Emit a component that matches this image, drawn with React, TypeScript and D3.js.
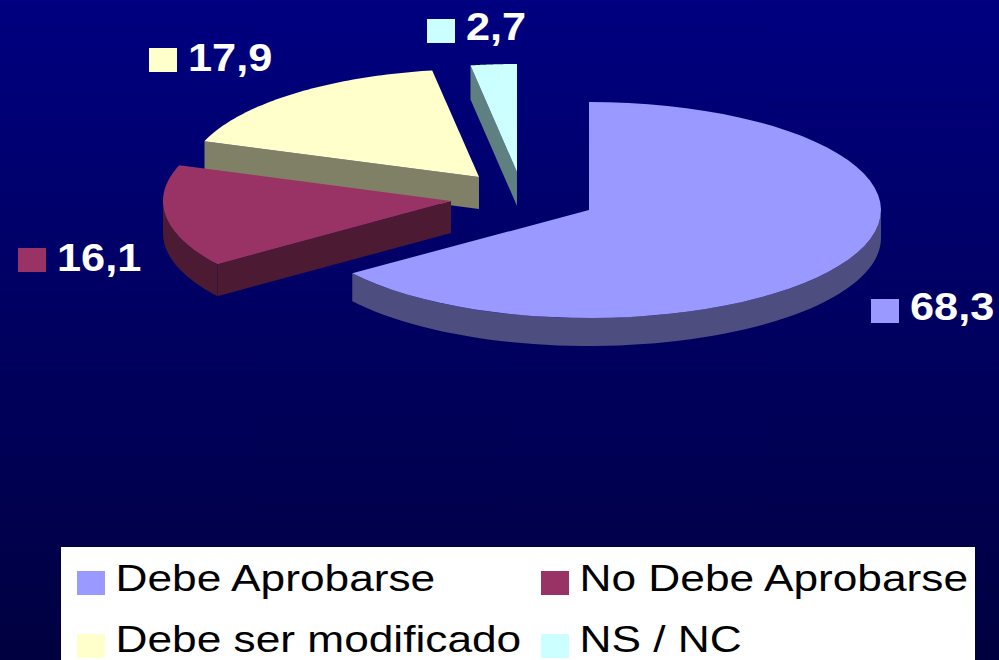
import React from "react";
import * as d3 from "d3";

const categories = ["Debe Aprobarse", "No Debe Aprobarse", "Debe ser modificado", "NS / NC"];
const values = [68.3, 16.1, 17.9, 2.7];
const valueLabels = ["68,3", "16,1", "17,9", "2,7"];
const topColors = ["#9999ff", "#993366", "#ffffcc", "#ccffff"];
const wallColors = ["#4d4d80", "#4d1a33", "#808066", "#5f8080"];

// layout
const W = 999, H = 660;
const centers: [number, number][] = [[589, 210], [451, 201], [479, 177], [517, 172]];
const radiiX = [292, 288, 291, 289];
const radiusY = 108;
const depths = [28, 32, 32, 34];
const drawOrder = [3, 2, 1, 0];
const labelBoxes: [number, number, number][] = [[871, 299, 320], [18, 248, 271], [149, 48, 71], [427, 19, 40]];
const legendPos: [number, number, number][] = [[77, 571, 591], [541, 571, 591], [77, 634, 652], [541, 634, 652]];
const labelStretch = 1.14;
const legendStretch = 1.18;
const font = "'Liberation Sans', Arial, sans-serif";

const arcs = d3.pie<number>().sort(null).value((d) => d)(values);

function pt(i: number, a: number, dy = 0): [number, number] {
  const [cx, cy] = centers[i];
  return [cx + radiiX[i] * Math.sin(a), cy - radiusY * Math.cos(a) + dy];
}
const line = d3.line();
function rim(i: number, a0: number, a1: number, dy = 0): [number, number][] {
  const angles = d3.range(0, 61).map((k) => a0 + ((a1 - a0) * k) / 60);
  return angles.map((a) => pt(i, a, dy));
}
function topPath(i: number) {
  const { startAngle, endAngle } = arcs[i];
  return line([centers[i], ...rim(i, startAngle, endAngle)]) + "Z";
}
function wallPaths(i: number): string[] {
  const { startAngle, endAngle } = arcs[i];
  const out: string[] = [];
  // outer rim, only the part that faces the viewer
  const a0 = Math.max(startAngle, Math.PI / 2);
  const a1 = Math.min(endAngle, (3 * Math.PI) / 2);
  if (a1 > a0) {
    out.push(line([...rim(i, a0, a1), ...rim(i, a0, a1, depths[i]).reverse()]) + "Z");
  }
  // cut face along the start angle, visible on the exploded slices
  if (i > 0) {
    const [cx, cy] = centers[i];
    const p = pt(i, startAngle);
    out.push(line([[cx, cy], p, [p[0], p[1] + depths[i]], [cx, cy + depths[i]]]) + "Z");
  }
  return out;
}

function StretchedText({ x, y, bold, fill, size, stretch, children }: any) {
  return (
    <text
      transform={`translate(${x},${y}) scale(${stretch},1)`}
      fontFamily={font}
      fontWeight={bold ? 700 : 400}
      fontSize={size}
      fill={fill}
    >
      {children}
    </text>
  );
}

export default function App() {
  return (
    <svg width={W} height={H} viewBox={`0 0 ${W} ${H}`} style={{ position: "absolute", left: 0, top: 0, display: "block" }}>
      <defs>
        <linearGradient id="bg" x1="0" y1="0" x2="0" y2="1">
          <stop offset="0" stopColor="#000080" />
          <stop offset="1" stopColor="#000040" />
        </linearGradient>
      </defs>
      <rect width={W} height={H} fill="url(#bg)" />
      {drawOrder.map((i) => (
        <g key={categories[i]}>
          {wallPaths(i).map((d, k) => (
            <path key={k} d={d} fill={wallColors[i]} />
          ))}
          <path d={topPath(i)} fill={topColors[i]} />
        </g>
      ))}
      {values.map((_, i) => (
        <g key={i}>
          <rect x={labelBoxes[i][0]} y={labelBoxes[i][1]} width={28} height={24} fill={topColors[i]} />
          <StretchedText x={labelBoxes[i][0] + 39} y={labelBoxes[i][2]} bold fill="#ffffff" size={38} stretch={labelStretch}>
            {valueLabels[i]}
          </StretchedText>
        </g>
      ))}
      <rect x={61} y={547} width={914} height={113} fill="#ffffff" />
      {categories.map((c, i) => (
        <g key={c}>
          <rect x={legendPos[i][0]} y={legendPos[i][1]} width={28} height={24} fill={topColors[i]} />
          <StretchedText x={legendPos[i][0] + 38.5} y={legendPos[i][2]} fill="#000000" size={37.5} stretch={legendStretch}>
            {c}
          </StretchedText>
        </g>
      ))}
    </svg>
  );
}
